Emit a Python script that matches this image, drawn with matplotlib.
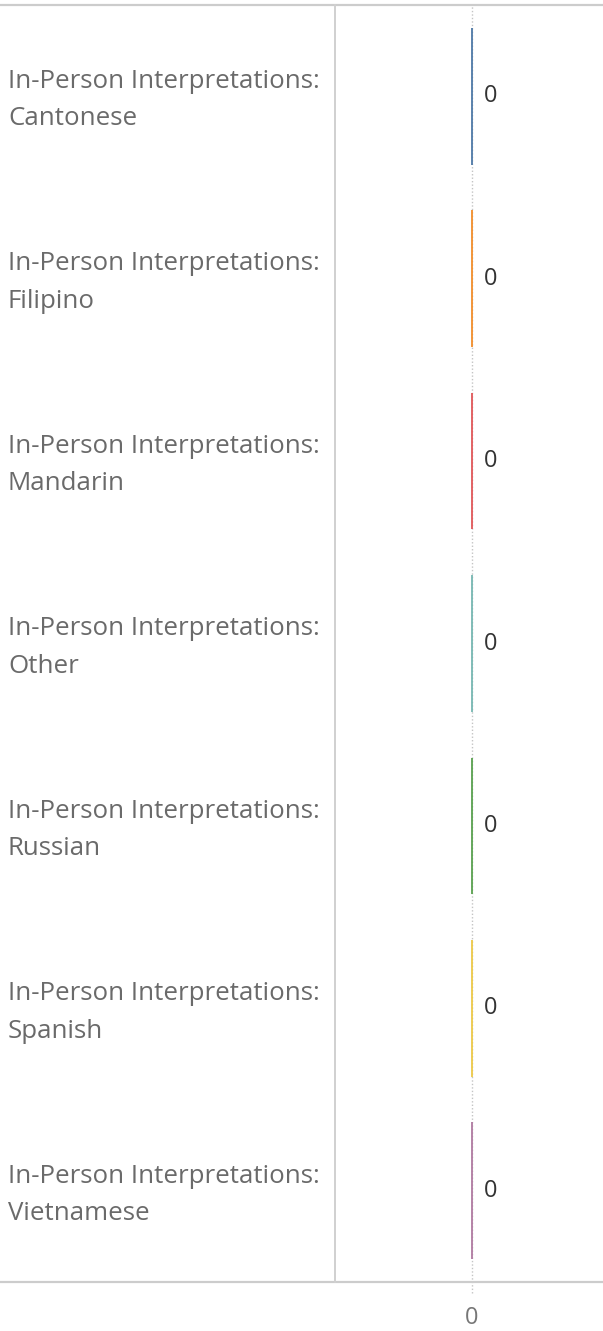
import matplotlib
matplotlib.use("Agg")
import matplotlib.pyplot as plt
import matplotlib.transforms as mtransforms

# interpretation counts by language (all zero in this period)
languages = ["Cantonese", "Filipino", "Mandarin", "Other", "Russian", "Spanish", "Vietnamese"]
counts = [0, 0, 0, 0, 0, 0, 0]
prefix = "In-Person Interpretations:"
colors = ["#4e79a7", "#f28e2b", "#e15759", "#76b7b2", "#59a14f", "#edc948", "#b07aa1"]

plt.rcParams["font.family"] = ["Open Sans", "DejaVu Sans"]

W, H = 603, 1331
fig = plt.figure(figsize=(W / 100, H / 100), dpi=100)
left, right, top, bottom = 335, 603, 5, 1282
ax = fig.add_axes([left / W, 1 - bottom / H, (right - left) / W, (bottom - top) / H])

rows = list(range(len(languages)))
ax.barh(rows, counts, height=0.75, color=colors, edgecolor=colors, linewidth=1.3)
ax.set_ylim(len(languages) - 0.5, -0.5)
ax.set_xlim(-1.0, 0.96)

# dotted zero reference line, running just past the bottom border
ax.axvline(0, ymin=-0.009, ymax=1, color="#c4c4c4", lw=1.0, ls=(0, (1, 1.5)),
           clip_on=False, zorder=0)

# value labels next to each bar
for r, v in zip(rows, counts):
    ax.text(v + 0.09, r, f"{v}", ha="left", va="center", fontsize=17, color="#333333")

# row headers in the left pane (nudged a touch below the row centre)
tr = mtransforms.blended_transform_factory(fig.transFigure, ax.transData)
for r, lang in zip(rows, languages):
    ax.text(8 / W, r + 0.022, f"{prefix}\n{lang}", transform=tr, ha="left", va="center",
            fontsize=18.6, color="#6a6a6a", linespacing=1.65)

# table borders: top, bottom across full width, divider between panes
for s in ["top", "right", "bottom"]:
    ax.spines[s].set_visible(False)
ax.spines["left"].set_color("#d0d0d0")
ax.spines["left"].set_linewidth(1.4)
x0 = -left / (right - left)
for yy in (0, 1):
    ax.plot([x0, 1], [yy, yy], transform=ax.transAxes, color="#cccccc", lw=1.6,
            clip_on=False, solid_capstyle="butt")

ax.set_yticks([])
ax.set_xticks([0])
ax.tick_params(axis="x", length=0, pad=17, labelsize=17, labelcolor="#777777")

fig.savefig("out.png", dpi=100, facecolor="white")
